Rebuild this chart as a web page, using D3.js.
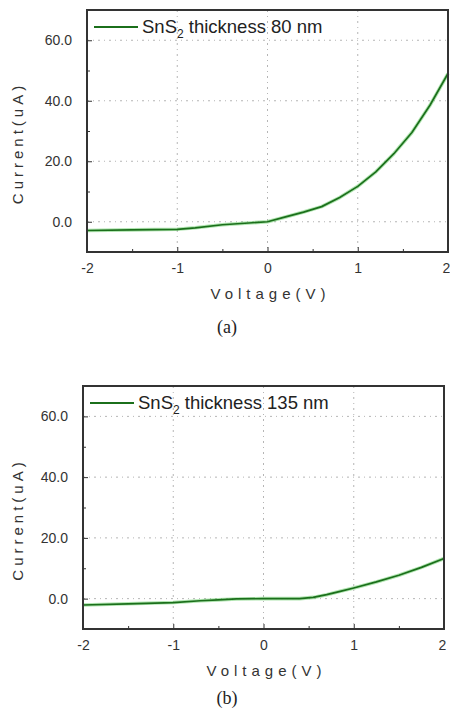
<!DOCTYPE html>
<html>
<head>
<meta charset="utf-8">
<script src="https://cdn.jsdelivr.net/npm/d3@7"></script>
<style>
html,body{margin:0;padding:0;background:#fff;}
svg{display:block;}
</style>
</head>
<body>
<svg id="chart" width="450" height="712"></svg>
<script>
// ---- data ----
const voltageA = [-2, -1.5, -1, -0.8, -0.5, -0.25, 0, 0.2, 0.4, 0.6, 0.8, 1.0, 1.2, 1.4, 1.6, 1.8, 2.0];
const currentA = [-2.9, -2.7, -2.5, -2.0, -1.0, -0.5, 0, 1.6, 3.2, 5.0, 8.0, 11.7, 16.5, 22.5, 29.5, 38.5, 49.0];
const voltageB = [-2, -1.5, -1, -0.7, -0.5, -0.3, 0, 0.4, 0.55, 0.7, 0.85, 1.0, 1.25, 1.5, 1.75, 2.0];
const currentB = [-2.1, -1.7, -1.3, -0.7, -0.4, -0.1, 0, 0, 0.4, 1.3, 2.4, 3.5, 5.5, 7.7, 10.3, 13.2];
const xTicks = [-2, -1, 0, 1, 2];
const xTickLabels = ["-2", "-1", "0", "1", "2"];
const yTicks = [0, 20, 40, 60];
const yTickLabels = ["0.0", "20.0", "40.0", "60.0"];
const legendA = "thickness 80 nm";
const legendB = "thickness 135 nm";
const captions = ["(a)", "(b)"];
const xLabel = "Voltage(V)";
const yLabel = "Current(uA)";

const svg = d3.select("#chart");
const green = "#1b6f1b";
const frameCol = "#333";
const sans = "Liberation Sans, Arial, sans-serif";

function drawPanel(cfg) {
  const {x0, x1, y0, y1, volt, curr, legend, caption, capY} = cfg;
  const x = d3.scaleLinear().domain([-2, 2]).range([x0, x1]);
  const y = d3.scaleLinear().domain([-10, 70]).range([y1, y0]);
  const g = svg.append("g");

  // grid
  g.append("g").selectAll("line").data(yTicks).join("line")
    .attr("x1", x0).attr("x2", x1)
    .attr("y1", d => y(d)).attr("y2", d => y(d))
    .attr("stroke", "#b5b5b5").attr("stroke-width", 1)
    .attr("stroke-dasharray", "2,4,1,4");
  g.append("g").selectAll("line").data([-1, 0, 1]).join("line")
    .attr("y1", y0).attr("y2", y1)
    .attr("x1", d => x(d)).attr("x2", d => x(d))
    .attr("stroke", "#b5b5b5").attr("stroke-width", 1)
    .attr("stroke-dasharray", "2,4,1,4");

  // axes (ticks inward)
  const yAxis = d3.axisLeft(y).tickValues(yTicks).tickSize(-5).tickPadding(15)
    .tickFormat((d, i) => yTickLabels[i]);
  const yMinor = d3.axisLeft(y).tickValues([10, 30, 50]).tickSize(-3).tickFormat("");
  const xAxis = d3.axisBottom(x).tickValues(xTicks).tickSize(-5).tickPadding(11)
    .tickFormat((d, i) => xTickLabels[i]);
  const xMinor = d3.axisBottom(x).tickValues([-1.5, -0.5, 0.5, 1.5]).tickSize(-3).tickFormat("");

  g.append("g").attr("transform", `translate(${x0},0)`).call(yAxis);
  g.append("g").attr("transform", `translate(${x0},0)`).call(yMinor);
  const xa = g.append("g").attr("transform", `translate(0,${y1})`).call(xAxis);
  g.append("g").attr("transform", `translate(0,${y1})`).call(xMinor);
  g.selectAll(".domain").remove();
  g.selectAll(".tick line").attr("stroke", frameCol).attr("stroke-width", 1);
  g.selectAll(".tick text").attr("fill", "#333")
    .style("font-family", sans).style("font-size", "14px");
  // keep the last x label inside the window
  xa.selectAll(".tick text").filter(d => d === 2).attr("dx", -2);

  // line: halo + core
  const pts = volt.map((v, i) => [v, curr[i]]);
  const line = d3.line().x(d => x(d[0])).y(d => y(d[1]));
  g.append("path").datum(pts).attr("d", line).attr("fill", "none")
    .attr("stroke", "#6fd06f").attr("stroke-width", 3.6).attr("stroke-opacity", 0.55)
    .attr("stroke-linejoin", "round");
  g.append("path").datum(pts).attr("d", line).attr("fill", "none")
    .attr("stroke", green).attr("stroke-width", 1.7).attr("stroke-linejoin", "round");

  // frame
  g.append("rect").attr("x", x0).attr("y", y0).attr("width", x1 - x0).attr("height", y1 - y0)
    .attr("fill", "none").attr("stroke", frameCol).attr("stroke-width", 2);

  // legend
  const ly = y0 + 17;
  g.append("line").attr("x1", x0 + 7).attr("x2", x0 + 51).attr("y1", ly).attr("y2", ly)
    .attr("stroke", green).attr("stroke-width", 2.2);
  const lt = g.append("text").attr("x", x0 + 55).attr("y", ly + 6)
    .attr("fill", "#222")
    .style("font-family", sans).style("font-size", "18.5px");
  lt.append("tspan").text("SnS");
  lt.append("tspan").attr("dy", 5).style("font-size", "12px").text("2");
  lt.append("tspan").attr("dy", -5).text(" " + legend);

  // axis labels
  g.append("text").attr("x", (x0 + x1) / 2 + 3).attr("y", y1 + 47)
    .attr("text-anchor", "middle").attr("fill", "#333")
    .style("font-family", sans).style("font-size", "15px")
    .style("letter-spacing", "5px").text(xLabel);
  g.append("text")
    .attr("transform", `translate(23,${(y0 + y1) / 2 + 12}) rotate(-90)`)
    .attr("text-anchor", "middle").attr("fill", "#333")
    .style("font-family", sans).style("font-size", "15px")
    .style("letter-spacing", "4px").text(yLabel);

  // caption
  g.append("text").attr("x", 227).attr("y", capY)
    .attr("text-anchor", "middle").attr("fill", "#222")
    .style("font-family", "Liberation Serif, DejaVu Serif, serif").style("font-size", "18px")
    .text(caption);
}

drawPanel({x0: 87, x1: 448, y0: 10, y1: 252, volt: voltageA, curr: currentA, legend: legendA, caption: captions[0], capY: 333});
drawPanel({x0: 83, x1: 444, y0: 386, y1: 629, volt: voltageB, curr: currentB, legend: legendB, caption: captions[1], capY: 704});
</script>
</body>
</html>
